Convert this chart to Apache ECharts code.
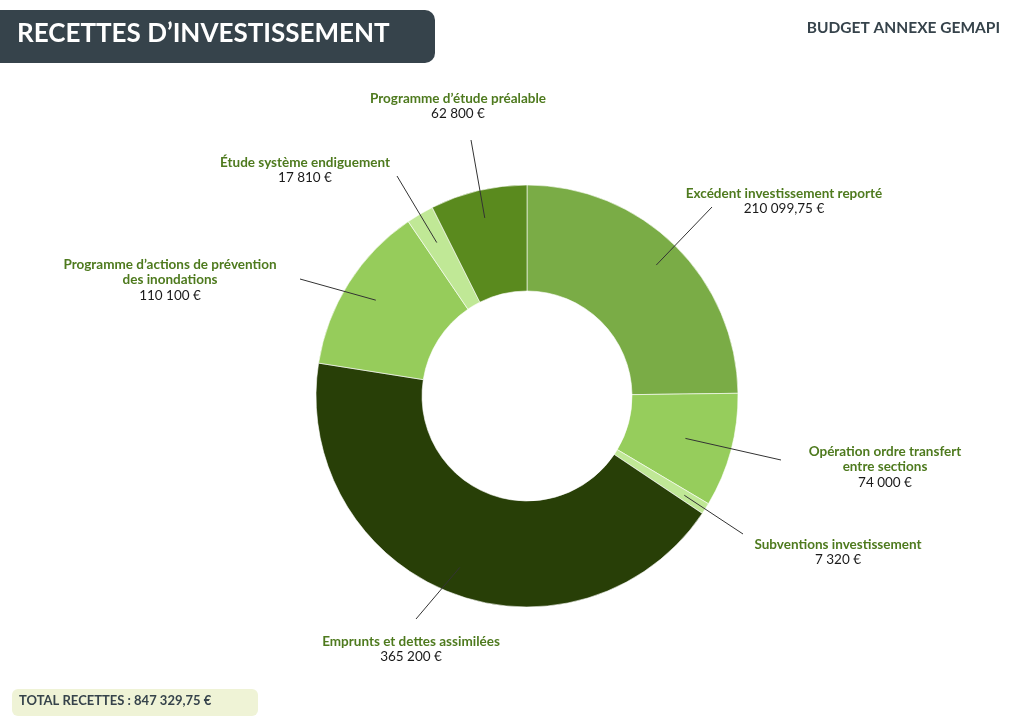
<!DOCTYPE html>
<html>
<head>
<meta charset="utf-8">
<script src="https://cdn.jsdelivr.net/npm/echarts@6/dist/echarts.min.js"></script>
<style>
html,body{margin:0;padding:0;background:#fff;}
#c{width:1024px;height:724px;}
</style>
</head>
<body>
<div id="c"></div>
<script>
// ---- data ----
const categories = [
  'Excédent investissement reporté',
  'Opération ordre transfert\nentre sections',
  'Subventions investissement',
  'Emprunts et dettes assimilées',
  'Programme d’actions de prévention\ndes inondations',
  'Étude système endiguement',
  'Programme d’étude préalable'
];
const values = [210099.75, 74000, 7320, 365200, 110100, 17810, 62800];
const titleText = 'RECETTES D’INVESTISSEMENT';
const subtitleText = 'BUDGET ANNEXE GEMAPI';
const totalText = 'TOTAL RECETTES : 847 329,75 €';

// ---- styles / layout ----
const colors = ['#7aac46', '#96cd5c', '#c0e896', '#283f07', '#96cc5b', '#c0e896', '#5a8a1e'];
const CX = 527, CY = 396, R_OUT = 211, R_IN = 105;
// label block centers, label-side end of guide line, radius where the guide line starts
const labelPos = [
  {x: 784, y: 201, ex: 712, ey: 207, lr: 184},
  {x: 885, y: 467, ex: 781, ey: 460, lr: 164},
  {x: 838, y: 552, ex: 743, ey: 534, lr: 186},
  {x: 411, y: 649, ex: 416, ey: 619, lr: 184},
  {x: 170, y: 280, ex: 300, ey: 279, lr: 179},
  {x: 305, y: 170, ex: 397, ey: 176, lr: 178},
  {x: 458, y: 106, ex: 471, ey: 140, lr: 183}
];
const FONT = 'Lato, "Open Sans", sans-serif';

function fmt(v) {
  const neg = v < 0; v = Math.abs(v);
  const ip = Math.floor(v);
  const dec = Math.round((v - ip) * 100);
  let s = String(ip).replace(/\B(?=(\d{3})+(?!\d))/g, ' ');
  if (dec) s += ',' + String(dec).padStart(2, '0');
  return (neg ? '-' : '') + s + ' €';
}

const pieData = categories.map((n, i) => ({name: n, value: values[i], itemStyle: {color: colors[i]}}));
const labelData = categories.map((n, i) => ({name: n, value: values[i]}));

const chart = echarts.init(document.getElementById('c'), null, {renderer: 'canvas'});
chart.setOption({
  animation: false,
  graphic: [
    {type: 'rect', shape: {x: -10, y: 10, width: 445, height: 53, r: 10}, style: {fill: '#36434b'}},
    {type: 'text', left: 17, top: 21, style: {text: titleText, fill: '#ffffff', font: 'bold 26px ' + FONT}},
    {type: 'text', right: 24, top: 20, style: {text: subtitleText, fill: '#36434b', font: 'bold 15.5px ' + FONT}},
    {type: 'rect', shape: {x: 12, y: 689, width: 246, height: 27, r: 6}, style: {fill: '#eff3d6'}},
    {type: 'text', left: 19, top: 694, style: {text: totalText, fill: '#36434b', font: 'bold 13px ' + FONT}}
  ],
  series: [{
    type: 'pie',
    z: 2,
    center: [CX, CY],
    radius: [R_IN, R_OUT],
    startAngle: 90,
    clockwise: true,
    silent: true,
    itemStyle: {borderColor: '#ffffff', borderWidth: 0.6},
    label: {show: false},
    labelLine: {show: false},
    data: pieData
  }, {
    type: 'pie',
    z: 3,
    center: [CX, CY],
    radius: [R_IN, R_OUT],
    startAngle: 90,
    clockwise: true,
    silent: true,
    avoidLabelOverlap: false,
    itemStyle: {color: 'rgba(0,0,0,0)', borderWidth: 0},
    data: labelData,
    label: {
      show: true,
      position: 'outside',
      formatter: p => p.name.split('\n').map(l => '{n|' + l + '}').join('\n') + '\n{v|' + fmt(p.value) + '}',
      align: 'center',
      rich: {
        n: {fontFamily: FONT, fontWeight: 'bold', fontSize: 13.5, color: '#4e7a1e', lineHeight: 15.5, align: 'center'},
        v: {fontFamily: FONT, fontSize: 13.5, color: '#1a1a1a', lineHeight: 15.5, align: 'center'}
      }
    },
    labelLine: {show: true, lineStyle: {color: '#333333', width: 1}, length: 10, length2: 0},
    labelLayout: function (params) {
      const lp = labelPos[params.dataIndex];
      const p0 = params.labelLinePoints ? params.labelLinePoints[0] : [CX, CY];
      const k = lp.lr / R_OUT;
      const sx = CX + (p0[0] - CX) * k, sy = CY + (p0[1] - CY) * k;
      return {
        x: lp.x, y: lp.y, align: 'center', verticalAlign: 'middle',
        labelLinePoints: [[sx, sy], [lp.ex, lp.ey], [lp.ex, lp.ey]]
      };
    }
  }]
});
</script>
</body>
</html>
